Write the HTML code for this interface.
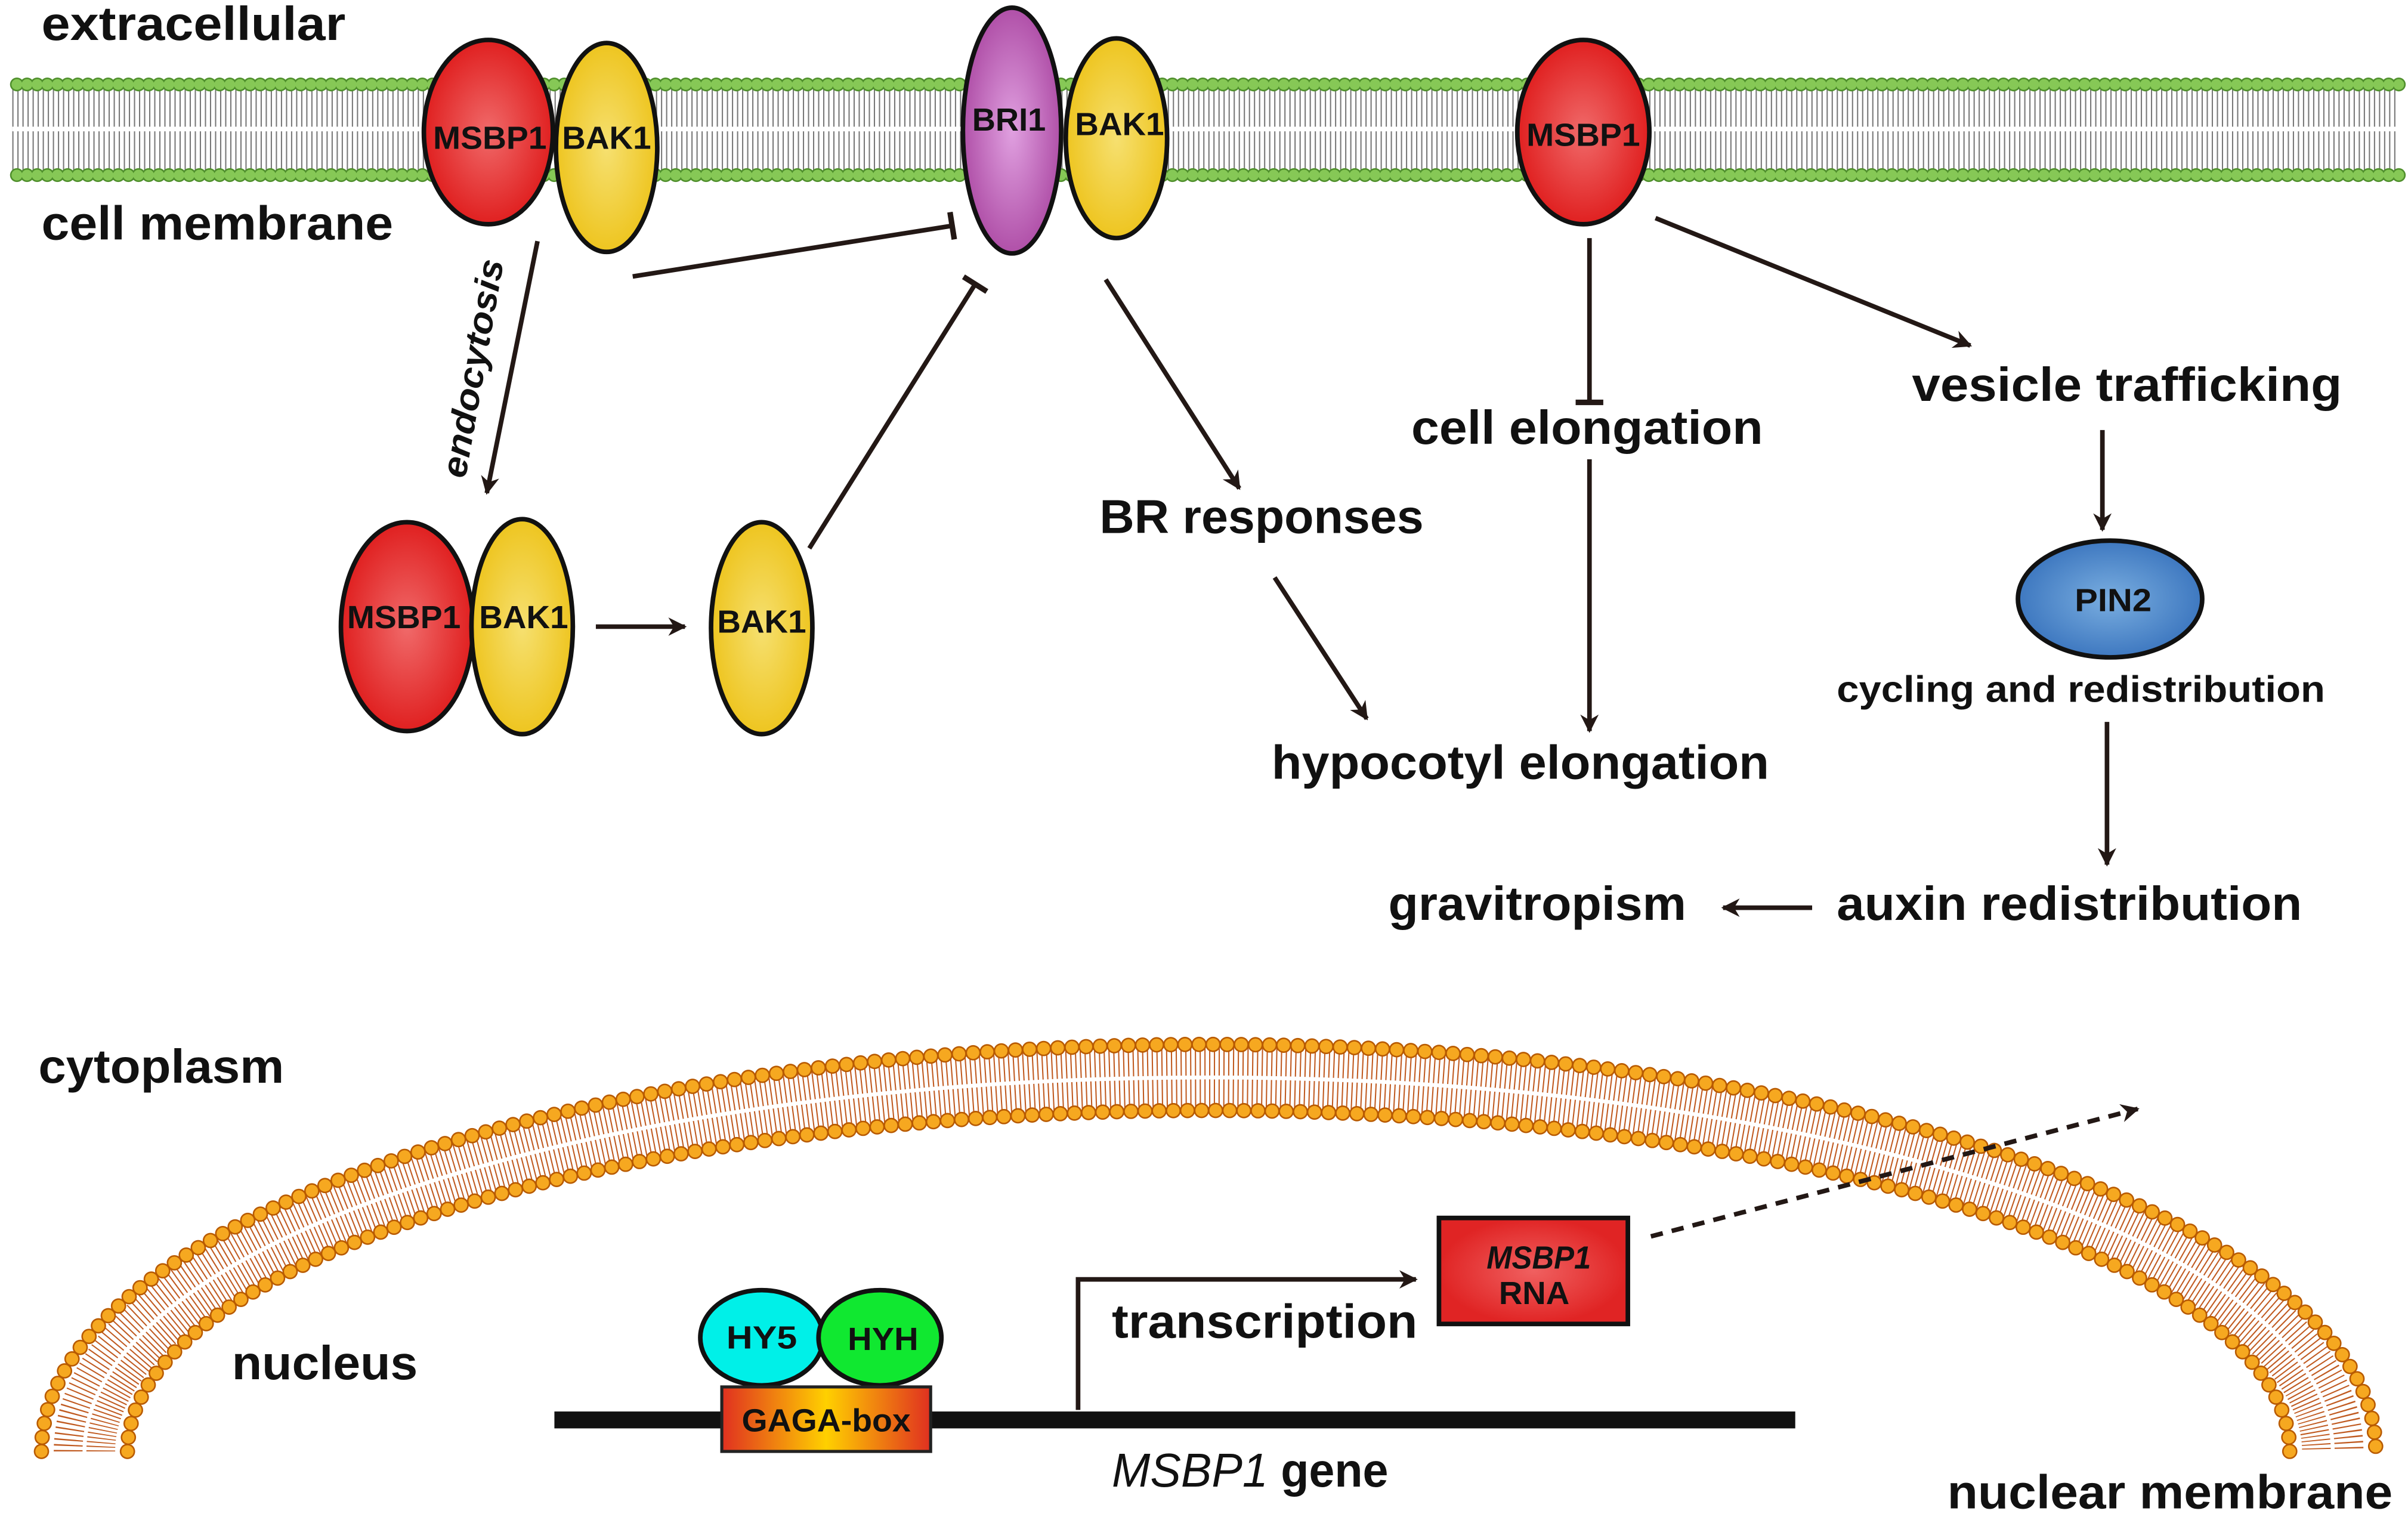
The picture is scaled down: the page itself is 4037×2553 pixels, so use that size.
<!DOCTYPE html>
<html><head><meta charset="utf-8"><style>
html,body{margin:0;padding:0;background:#fff}
svg{display:block}
text{font-family:"Liberation Sans",Arial,sans-serif;font-weight:bold;fill:#111}
</style></head><body>
<svg width="4037" height="2553" viewBox="0 0 1568 991.6" preserveAspectRatio="none" xmlns="http://www.w3.org/2000/svg">
<defs>
<radialGradient id="rd"><stop offset="0" stop-color="#f06a6a"/><stop offset="1" stop-color="#e02020"/></radialGradient>
<radialGradient id="yl"><stop offset="0" stop-color="#f6e070"/><stop offset="1" stop-color="#eec520"/></radialGradient>
<radialGradient id="pu"><stop offset="0" stop-color="#e0a0e0"/><stop offset="1" stop-color="#b050a8"/></radialGradient>
<radialGradient id="bl"><stop offset="0" stop-color="#7aaee0"/><stop offset="1" stop-color="#3e78c0"/></radialGradient>
<radialGradient id="rna"><stop offset="0" stop-color="#f06060"/><stop offset="1" stop-color="#e02424"/></radialGradient>
<linearGradient id="gaga" x1="0" x2="1"><stop offset="0" stop-color="#e03020"/><stop offset="0.5" stop-color="#ffd000"/><stop offset="1" stop-color="#e03020"/></linearGradient>
<marker id="a2" viewBox="0 0 10 10" refX="9" refY="5" markerWidth="14" markerHeight="12" orient="auto" markerUnits="userSpaceOnUse"><path d="M0,0 L10,5 L0,10 L3,5 Z" fill="#231815"/></marker>
<marker id="tb" viewBox="0 0 4 20" refX="2" refY="10" markerWidth="4" markerHeight="18" orient="auto" markerUnits="userSpaceOnUse"><rect x="0" y="0" width="4" height="20" fill="#231815"/></marker>
</defs>

<!-- cell membrane -->
<line x1="8" y1="84" x2="1562" y2="84" stroke="#777" stroke-width="54" stroke-dasharray="0.8 2.5"/>
<line x1="8" y1="84" x2="1562" y2="84" stroke="#fff" stroke-width="3"/>
<line x1="11" y1="55" x2="1562" y2="55" stroke="#4f8f2c" stroke-width="9" stroke-dasharray="0 6.6" stroke-linecap="round"/>
<line x1="11" y1="55" x2="1562" y2="55" stroke="#86c856" stroke-width="7" stroke-dasharray="0 6.6" stroke-linecap="round"/>
<line x1="11" y1="114" x2="1562" y2="114" stroke="#4f8f2c" stroke-width="9" stroke-dasharray="0 6.6" stroke-linecap="round"/>
<line x1="11" y1="114" x2="1562" y2="114" stroke="#86c856" stroke-width="7" stroke-dasharray="0 6.6" stroke-linecap="round"/>

<!-- nuclear membrane -->
<path d="M55 945 A732 243.5 0 0 1 1519 945" fill="none" stroke="#c05a20" stroke-width="40" stroke-dasharray="0.8 2.3"/>
<path d="M55 945 A732 243.5 0 0 1 1519 945" fill="none" stroke="#fff" stroke-width="2.5"/>
<path d="M27 945 A760 265 0 0 1 1547 945" fill="none" stroke="#b85a00" stroke-width="10" stroke-dasharray="0 9.2" stroke-linecap="round"/>
<path d="M27 945 A760 265 0 0 1 1547 945" fill="none" stroke="#f6a820" stroke-width="8" stroke-dasharray="0 9.2" stroke-linecap="round"/>
<path d="M83 945 A704 222 0 0 1 1491 945" fill="none" stroke="#b85a00" stroke-width="10" stroke-dasharray="0 9.2" stroke-linecap="round"/>
<path d="M83 945 A704 222 0 0 1 1491 945" fill="none" stroke="#f6a820" stroke-width="8" stroke-dasharray="0 9.2" stroke-linecap="round"/>

<g stroke="#111" stroke-width="3">
<ellipse cx="318" cy="86" rx="42" ry="60" fill="url(#rd)"/>
<ellipse cx="395" cy="96" rx="33" ry="68" fill="url(#yl)"/>
<ellipse cx="659" cy="85" rx="32" ry="80" fill="url(#pu)"/>
<ellipse cx="727" cy="90" rx="33" ry="65" fill="url(#yl)"/>
<ellipse cx="1031" cy="86" rx="43" ry="60" fill="url(#rd)"/>
<ellipse cx="265" cy="408" rx="43" ry="68" fill="url(#rd)"/>
<ellipse cx="340" cy="408" rx="33" ry="70" fill="url(#yl)"/>
<ellipse cx="496" cy="409" rx="33" ry="69" fill="url(#yl)"/>
<ellipse cx="1374" cy="390" rx="60" ry="38" fill="url(#bl)"/>
<ellipse cx="496" cy="871" rx="40" ry="31" fill="#00f0e8"/>
<ellipse cx="573" cy="871" rx="40" ry="31" fill="#10e830"/>
<rect x="937" y="793" width="123" height="69" fill="url(#rna)"/>
</g>
<rect x="361" y="919" width="808" height="11" fill="#111"/>
<rect x="470" y="903" width="136" height="42" fill="url(#gaga)" stroke="#222" stroke-width="2"/>

<g font-size="21" text-anchor="middle" lengthAdjust="spacingAndGlyphs">
<text x="319" y="97" textLength="74" lengthAdjust="spacingAndGlyphs">MSBP1</text>
<text x="395" y="97" textLength="58" lengthAdjust="spacingAndGlyphs">BAK1</text>
<text x="657" y="85" textLength="48" lengthAdjust="spacingAndGlyphs">BRI1</text>
<text x="729" y="88" textLength="58" lengthAdjust="spacingAndGlyphs">BAK1</text>
<text x="1031" y="95" textLength="74" lengthAdjust="spacingAndGlyphs">MSBP1</text>
<text x="263" y="409" textLength="74" lengthAdjust="spacingAndGlyphs">MSBP1</text>
<text x="341" y="409" textLength="58" lengthAdjust="spacingAndGlyphs">BAK1</text>
<text x="496" y="412" textLength="58" lengthAdjust="spacingAndGlyphs">BAK1</text>
<text x="1376" y="398" textLength="50" lengthAdjust="spacingAndGlyphs">PIN2</text>
<text x="496" y="878" textLength="46" lengthAdjust="spacingAndGlyphs">HY5</text>
<text x="575" y="879" textLength="46" lengthAdjust="spacingAndGlyphs">HYH</text>
<text x="538" y="932" textLength="110" lengthAdjust="spacingAndGlyphs">GAGA-box</text>
<text x="1002" y="826" font-style="italic" font-weight="normal" textLength="68" lengthAdjust="spacingAndGlyphs">MSBP1</text>
<text x="999" y="849" textLength="46" lengthAdjust="spacingAndGlyphs">RNA</text>
</g>

<g font-size="31">
<text x="27" y="26" textLength="198" lengthAdjust="spacingAndGlyphs">extracellular</text>
<text x="27" y="156" textLength="229" lengthAdjust="spacingAndGlyphs">cell membrane</text>
<text x="25" y="705" textLength="160" lengthAdjust="spacingAndGlyphs">cytoplasm</text>
<text x="151" y="898" textLength="121" lengthAdjust="spacingAndGlyphs">nucleus</text>
<text x="1268" y="982" textLength="290" lengthAdjust="spacingAndGlyphs">nuclear membrane</text>
<text x="716" y="347" textLength="211" lengthAdjust="spacingAndGlyphs">BR responses</text>
<text x="828" y="507" textLength="324" lengthAdjust="spacingAndGlyphs">hypocotyl elongation</text>
<text x="919" y="289" textLength="229" lengthAdjust="spacingAndGlyphs">cell elongation</text>
<text x="1245" y="261" textLength="280" lengthAdjust="spacingAndGlyphs">vesicle trafficking</text>
<text x="1196" y="599" textLength="303" lengthAdjust="spacingAndGlyphs">auxin redistribution</text>
<text x="904" y="599" textLength="194" lengthAdjust="spacingAndGlyphs">gravitropism</text>
<text x="724" y="871" textLength="199" lengthAdjust="spacingAndGlyphs">transcription</text>
<text x="724" y="968" textLength="180" lengthAdjust="spacingAndGlyphs"><tspan font-style="italic" font-weight="normal">MSBP1</tspan> gene</text>
</g>
<text x="1196" y="457" font-size="24" textLength="318" lengthAdjust="spacingAndGlyphs">cycling and redistribution</text>
<text transform="translate(303,312) rotate(-80)" font-size="23" font-style="italic" textLength="144" lengthAdjust="spacingAndGlyphs">endocytosis</text>

<g stroke="#231815" stroke-width="3" fill="none">
<line x1="350" y1="157" x2="317" y2="321" marker-end="url(#a2)"/>
<line x1="412" y1="180" x2="620" y2="147" marker-end="url(#tb)"/>
<line x1="527" y1="357" x2="635" y2="185" marker-end="url(#tb)"/>
<line x1="388" y1="408" x2="446" y2="408" marker-end="url(#a2)"/>
<line x1="720" y1="182" x2="807" y2="318" marker-end="url(#a2)"/>
<line x1="830" y1="376" x2="890" y2="468" marker-end="url(#a2)"/>
<line x1="1035" y1="155" x2="1035" y2="262" marker-end="url(#tb)"/>
<line x1="1035" y1="299" x2="1035" y2="476" marker-end="url(#a2)"/>
<line x1="1078" y1="142" x2="1283" y2="225" marker-end="url(#a2)"/>
<line x1="1369" y1="280" x2="1369" y2="345" marker-end="url(#a2)"/>
<line x1="1372" y1="470" x2="1372" y2="563" marker-end="url(#a2)"/>
<line x1="1180" y1="591" x2="1122" y2="591" marker-end="url(#a2)"/>
<polyline points="702,918 702,833 922,833" marker-end="url(#a2)"/>
<line x1="1075" y1="805" x2="1392" y2="722" stroke-dasharray="8 6" marker-end="url(#a2)"/>
</g>
</svg>
</body></html>
